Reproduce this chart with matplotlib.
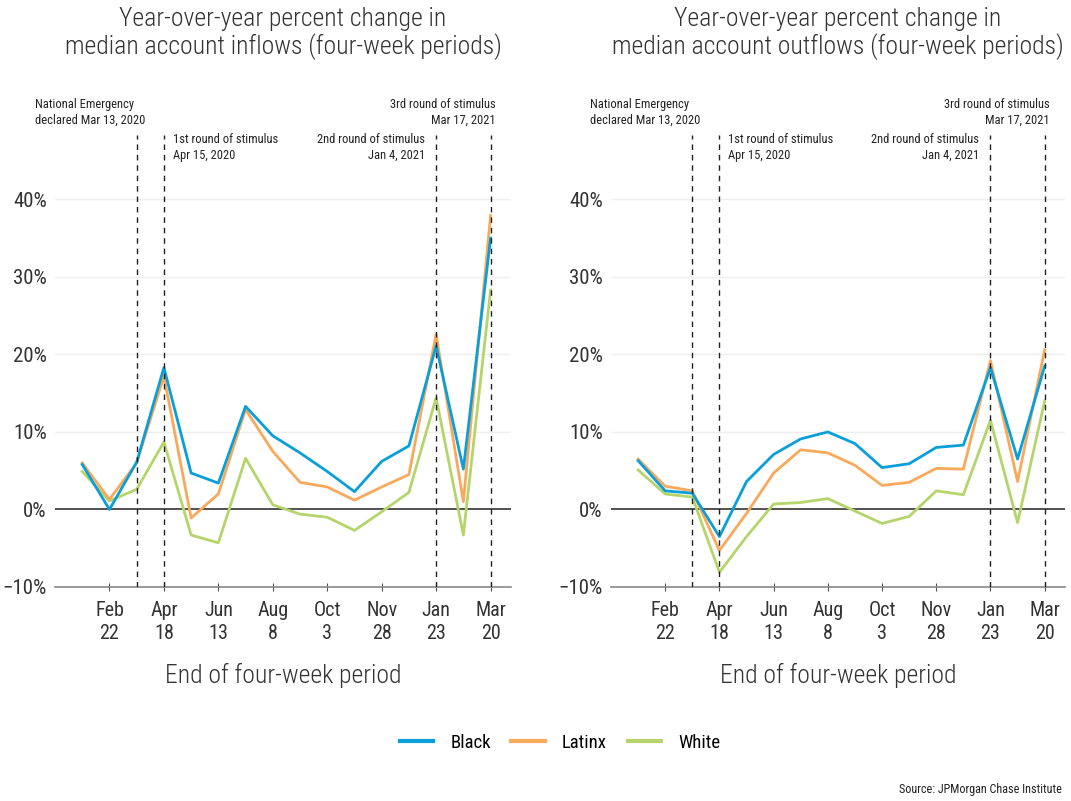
import matplotlib
matplotlib.use("Agg")
from matplotlib import pyplot as plt
import numpy as np

plt.rcParams["font.family"] = ["Roboto Condensed", "Liberation Sans Narrow", "Liberation Sans", "DejaVu Sans"]

periods = ["Jan 25", "Feb 22", "Mar 21", "Apr 18", "May 16", "Jun 13", "Jul 11", "Aug 8",
           "Sep 5", "Oct 3", "Oct 31", "Nov 28", "Dec 26", "Jan 23", "Feb 20", "Mar 20"]
tick_labels = ["Feb\n22", "Apr\n18", "Jun\n13", "Aug\n8", "Oct\n3", "Nov\n28", "Jan\n23", "Mar\n20"]

inflow_black = [5.8, 0.0, 6.1, 18.3, 4.7, 3.4, 13.3, 9.5, 7.3, 4.9, 2.3, 6.2, 8.2, 21.1, 5.2, 35.0]
inflow_latinx = [6.0, 1.3, 6.0, 17.2, -1.1, 2.0, 12.9, 7.5, 3.5, 2.9, 1.2, 2.9, 4.5, 22.6, 1.0, 37.9]
inflow_white = [4.9, 1.1, 2.6, 8.7, -3.3, -4.3, 6.6, 0.6, -0.6, -1.0, -2.7, -0.3, 2.2, 14.4, -3.3, 28.3]

outflow_black = [6.3, 2.4, 2.1, -3.5, 3.6, 7.1, 9.1, 10.0, 8.5, 5.4, 5.9, 8.0, 8.3, 18.3, 6.5, 18.5]
outflow_latinx = [6.5, 3.0, 2.4, -5.3, -0.5, 4.7, 7.7, 7.3, 5.7, 3.1, 3.5, 5.3, 5.2, 19.2, 3.6, 20.6]
outflow_white = [5.1, 2.0, 1.6, -8.1, -3.5, 0.7, 0.9, 1.4, -0.2, -1.8, -0.9, 2.4, 1.9, 11.5, -1.7, 14.0]

COLORS = {'Black': '#0a9fd9', 'Latinx': '#f9a95b', 'White': '#b5d56c'}

# (label, index of period, x offset px, y offset px, alignment)
events = [("National Emergency\ndeclared Mar 13, 2020", 2, -102, 37, 'left'),
          ("1st round of stimulus\nApr 15, 2020", 3, 9, 2, 'left'),
          ("2nd round of stimulus\nJan 4, 2021", 13, -11, 2, 'right'),
          ("3rd round of stimulus\nMar 17, 2021", 15, 5, 37, 'right')]

fig = plt.figure(figsize=(10.71, 8.01), dpi=100)
ax1 = fig.add_axes([55 / 1071, 1 - 587 / 801, 456 / 1071, 452 / 801])
ax2 = fig.add_axes([611 / 1071, 1 - 587 / 801, 454 / 1071, 452 / 801])

x = np.arange(len(periods))


def draw_panel(ax, black, latinx, white, title):
    ax.plot(x, black, color=COLORS['Black'], lw=2, label='Black', zorder=4)
    ax.plot(x, latinx, color=COLORS['Latinx'], lw=2, label='Latinx', zorder=3)
    ax.plot(x, white, color=COLORS['White'], lw=2, label='White', zorder=2)

    ax.set_xlim(-1.0, 15.75)
    ax.set_ylim(-10, 48.3)
    for s in ['top', 'right', 'left']:
        ax.spines[s].set_visible(False)
    ax.spines['bottom'].set_color('#888888')
    ax.spines['bottom'].set_linewidth(1.2)
    ax.axhline(0, color='#333333', lw=1.2, zorder=1)

    ax.set_yticks([-10, 0, 10, 20, 30, 40])
    ax.set_yticklabels(['\u221210%', '0%', '10%', '20%', '30%', '40%'])
    for yv in [10, 20, 30, 40]:
        ax.axhline(yv, color='#eeeeee', lw=1, zorder=0)
    ax.tick_params(axis='y', length=0, pad=6, labelsize=15, labelcolor='#333333')

    ax.set_xticks(x[1::2])
    ax.set_xticklabels(tick_labels, linespacing=1.3)
    ax.tick_params(axis='x', direction='inout', length=6, color='#555555', pad=7,
                   labelsize=14.5, labelcolor='#333333')

    for label, idx, dx, dy, ha in events:
        ax.axvline(idx, color='#222222', lw=1, ls=(0, (4, 3.5)), zorder=5)
        ax.annotate(label, xy=(idx, 1), xycoords=('data', 'axes fraction'),
                    xytext=(dx, dy), textcoords='offset pixels', ha=ha, va='top',
                    fontsize=9, color='#222222', linespacing=1.3, annotation_clip=False)

    ax.set_title(title, fontsize=18.5, color='#333333', pad=58, linespacing=1.12, weight='light')
    ax.set_xlabel('End of four-week period', fontsize=18.5, color='#333333', labelpad=14,
                  weight='light')


draw_panel(ax1, inflow_black, inflow_latinx, inflow_white,
           'Year-over-year percent change in\nmedian account inflows (four-week periods)')
draw_panel(ax2, outflow_black, outflow_latinx, outflow_white,
           'Year-over-year percent change in\nmedian account outflows (four-week periods)')

handles, labels = ax1.get_legend_handles_labels()
fig.legend(handles, labels, loc='center', bbox_to_anchor=(560 / 1071, 1 - 743 / 801), ncol=3,
           frameon=False, fontsize=13.5, handlelength=1.8, columnspacing=1.1, handletextpad=0.9)
for line in fig.legends[0].get_lines():
    line.set_linewidth(3)

fig.text(1062 / 1071, 1 - 790 / 801, 'Source: JPMorgan Chase Institute', ha='right', va='center',
         fontsize=8.7, color='#222222')

fig.savefig('out.png', dpi=100, facecolor='white')
